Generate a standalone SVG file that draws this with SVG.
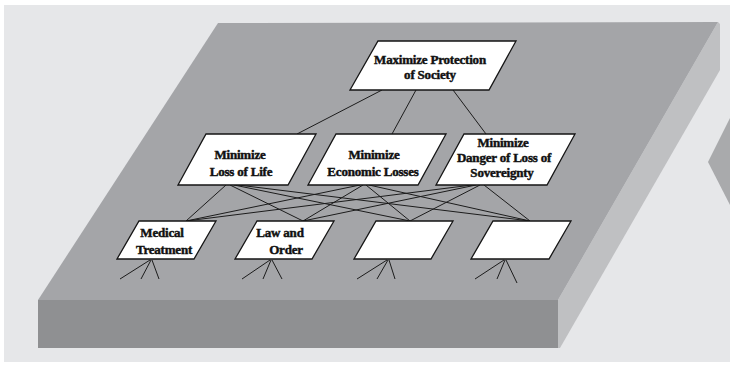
<svg xmlns="http://www.w3.org/2000/svg" width="730" height="365" viewBox="0 0 730 365">
  <defs>
    <style>
      .node { fill: #ffffff; stroke: #151515; stroke-width: 1.3; stroke-linejoin: miter; }
      .label { font-family: "Liberation Serif", "Times New Roman", serif; font-weight: bold; font-size: 13px; fill: #111; stroke: #111; stroke-width: 0.45; text-anchor: middle; letter-spacing: -0.2px; }
      .link { stroke: #1c1c1c; stroke-width: 1; fill: none; }
      .stub { stroke: #1c1c1c; stroke-width: 1; fill: none; }
    </style>
  </defs>

  <!-- backdrop -->
  <rect x="0" y="0" width="730" height="365" fill="#ffffff"/>
  <rect x="4" y="5" width="726" height="357" fill="#e6e7e9"/>

  <!-- slab -->
  <g id="slab">
    <polygon points="718,22 720,24 720,70 560,348 558,348 558,300" fill="#bfc0c2"/>
    <polygon points="38,300 558,300 558,348 38,348" fill="#8f9092"/>
    <polygon points="218,23 718,22 558,300 38,300" fill="#a4a5a8"/>
  </g>

  <!-- pointer on the right edge -->
  <polygon id="pointer" points="730,118 708,162 730,205" fill="#a9aaac"/>

  <!-- connectors -->
  <g id="connectors">
    <line class="link" x1="382" y1="90" x2="297" y2="134"/>
    <line class="link" x1="416" y1="90" x2="392" y2="134"/>
    <line class="link" x1="453" y1="90" x2="486" y2="134"/>

    <line class="link" x1="226" y1="185" x2="186" y2="221"/>
    <line class="link" x1="230" y1="185" x2="303" y2="221"/>
    <line class="link" x1="234" y1="185" x2="410" y2="221"/>
    <line class="link" x1="238" y1="185" x2="530" y2="221"/>

    <line class="link" x1="360" y1="185" x2="186" y2="221"/>
    <line class="link" x1="363" y1="185" x2="303" y2="221"/>
    <line class="link" x1="366" y1="185" x2="410" y2="221"/>
    <line class="link" x1="369" y1="185" x2="530" y2="221"/>

    <line class="link" x1="472" y1="185" x2="186" y2="221"/>
    <line class="link" x1="476" y1="185" x2="303" y2="221"/>
    <line class="link" x1="480" y1="185" x2="410" y2="221"/>
    <line class="link" x1="484" y1="185" x2="530" y2="221"/>

    <path class="stub" d="M150,260 L120,279 M151,260 L141,279 M152,260 L159,279"/>
    <path class="stub" d="M270,260 L242,279 M271,260 L263,279 M272,260 L282,279"/>
    <path class="stub" d="M387,260 L357,279 M388,260 L377,279 M389,260 L395,279"/>
    <path class="stub" d="M504,260 L475,279 M505,260 L497,279 M506,260 L517,283"/>
  </g>

  <!-- top objective -->
  <g id="n-society">
    <polygon class="node" points="378,41 516,41 489,90 350,90"/>
    <text class="label" x="430" y="64">Maximize Protection</text>
    <text class="label" x="430" y="79">of Society</text>
  </g>

  <!-- second level -->
  <g id="n-life">
    <polygon class="node" points="206,134 316,134 288,185 178,185"/>
    <text class="label" x="240" y="159">Minimize</text>
    <text class="label" x="241" y="176">Loss of Life</text>
  </g>
  <g id="n-economic">
    <polygon class="node" points="336,134 446,134 418,185 308,185"/>
    <text class="label" x="374" y="159">Minimize</text>
    <text class="label" x="373" y="176">Economic Losses</text>
  </g>
  <g id="n-sovereignty">
    <polygon class="node" points="464,134 575,134 547,185 436,185"/>
    <text class="label" x="503" y="147">Minimize</text>
    <text class="label" x="504" y="162">Danger of Loss of</text>
    <text class="label" x="502" y="177">Sovereignty</text>
  </g>

  <!-- third level -->
  <g id="n-medical">
    <polygon class="node" points="139,221 216,221 194,259 117,259"/>
    <text class="label" x="162" y="237">Medical</text>
    <text class="label" x="164" y="254">Treatment</text>
  </g>
  <g id="n-law">
    <polygon class="node" points="257,221 334,221 312,259 235,259"/>
    <text class="label" x="280" y="237">Law and</text>
    <text class="label" x="286" y="254">Order</text>
  </g>
  <g id="n-blank-3">
    <polygon class="node" points="376,221 453,221 431,259 354,259"/>
  </g>
  <g id="n-blank-4">
    <polygon class="node" points="493,221 571,221 549,259 471,259"/>
  </g>
</svg>
